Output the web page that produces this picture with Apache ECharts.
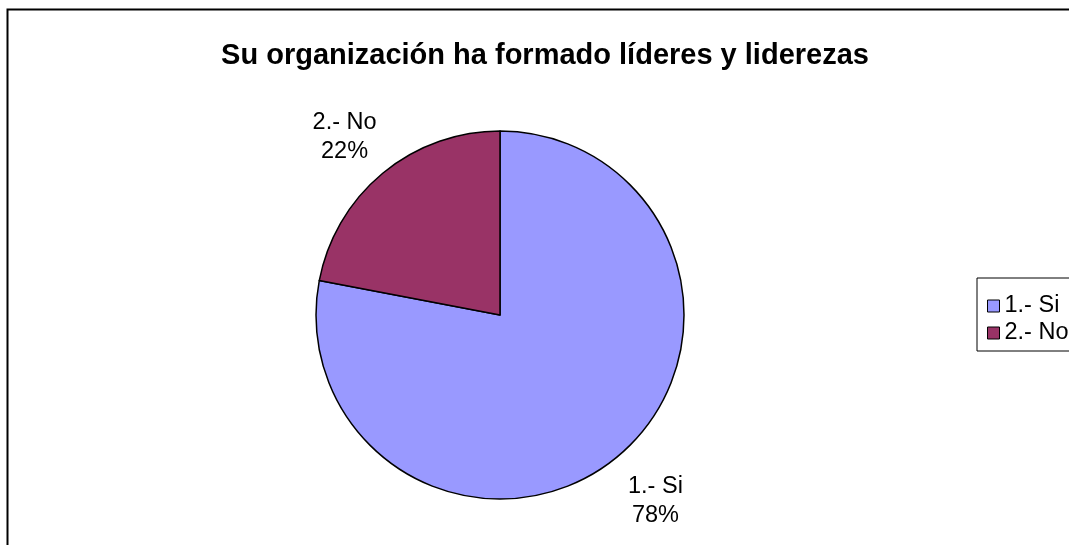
<!DOCTYPE html>
<html>
<head>
<meta charset="utf-8">
<script src="https://cdn.jsdelivr.net/npm/echarts@6/dist/echarts.min.js"></script>
<style>
  html, body { margin: 0; padding: 0; background: #ffffff; }
  #chart { width: 1069px; height: 545px; }
</style>
</head>
<body>
<div id="chart"></div>
<script>
var categories = ['1.- Si', '2.- No']
var values = [78, 22]
var colors = ['#9999FF', '#993366']

var myChart = echarts.init(document.getElementById('chart'))
myChart.setOption({
  backgroundColor: '#ffffff',
  animation: false,
  title: {
    text: 'Su organización ha formado líderes y liderezas',
    left: 540,
    top: 36,
    textAlign: 'center',
    textStyle: {
      fontFamily: 'Liberation Sans, Arial',
      fontSize: 29,
      fontWeight: 'bold',
      color: '#000'
    }
  },
  graphic: [{
    type: 'rect',
    shape: { x: 7.5, y: 9.5, width: 1100, height: 600 },
    style: { fill: 'none', stroke: '#000', lineWidth: 2 },
    z: -1
  }],
  legend: {
    orient: 'vertical',
    left: 977,
    top: 278,
    padding: [16, 40, 6, 10],
    itemGap: 3,
    itemWidth: 12,
    itemHeight: 12,
    icon: 'rect',
    borderColor: '#000',
    borderWidth: 1,
    data: categories,
    itemStyle: { borderColor: '#000', borderWidth: 1 },
    textStyle: {
      fontFamily: 'Liberation Sans, Arial',
      fontSize: 23.5,
      color: '#000'
    }
  },
  series: [{
    type: 'pie',
    center: [500, 315],
    radius: [0, 184],
    startAngle: 90,
    clockwise: true,
    data: categories.map(function (name, i) {
      return { name: name, value: values[i], itemStyle: { color: colors[i] } }
    }),
    itemStyle: { borderColor: '#000', borderWidth: 1.5 },
    label: {
      show: true,
      position: 'outside',
      formatter: '{b}\n{d}%',
      fontFamily: 'Liberation Sans, Arial',
      fontSize: 23.5,
      color: '#000',
      lineHeight: 29
    },
    labelLine: { show: false, length: 52, length2: 0 },
    labelLayout: function () {
      return { align: 'center', verticalAlign: 'middle', dy: 4 }
    },
    emphasis: { disabled: true }
  }]
})
</script>
</body>
</html>
